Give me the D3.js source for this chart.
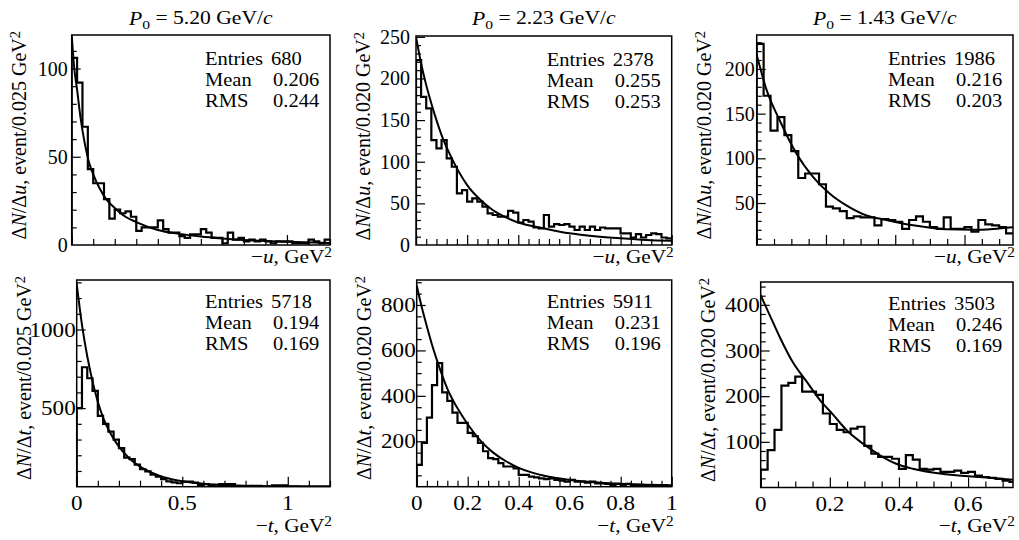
<!DOCTYPE html>
<html>
<head>
<meta charset="utf-8">
<script src="https://cdn.jsdelivr.net/npm/d3@7"></script>
<style>
  body { margin: 0; background: #fff; }
  svg text { font-family: "Liberation Serif", "Times New Roman", serif; fill: #000; }
</style>
</head>
<body>
<svg id="chart" width="1019" height="540"></svg>
<script>
// values
const momenta = ["5.20", "2.23", "1.43"];
const binWidths = ["0.025", "0.020", "0.020"];

// -u histograms (counts per bin)
const uCounts520 = [106, 92, 67, 43, 35, 35, 26, 15, 20, 18, 19, 16, 8, 10, 10, 10, 14, 9, 7, 7, 5, 4, 6, 6,
  9, 7, 4, 4, 1, 7, 3, 4, 2, 3, 2, 3, 2, 1, 2, 2, 2, 1, 1, 1, 3, 2, 1, 3];
const uCounts223 = [222, 178, 164, 126, 116, 126, 104, 94, 62, 66, 52, 56, 52, 46, 38, 36, 34, 34, 41, 39,
  27, 30, 28, 21, 20, 36, 22, 25, 24, 25, 22, 18, 22, 18, 22, 18, 21, 20, 20, 20, 14, 14, 9, 13, 9, 12, 14, 13, 9, 8];
const uCounts143 = [228, 170, 131, 146, 126, 108, 78, 83, 83, 71, 46, 44, 41, 33, 35, 34, 34, 25, 32, 31,
  29, 21, 31, 35, 29, 23, 21, 34, 21, 21, 23, 18, 31, 26, 25, 23, 16];

// -t histograms
const tCounts520 = [500, 760, 690, 610, 450, 400, 350, 300, 245, 185, 175, 140, 112, 97, 76, 64, 48, 34, 27, 22,
  32, 32, 26, 12, 17, 5, 12, 17, 17, 17, 5, 1, 1, 5, 5, 1, 1, 8, 8, 8, 3, 3, 1, 1, 1, 1, 1, 1];
const tCounts223 = [96, 193, 304, 447, 544, 415, 378, 326, 281, 281, 237, 222, 193, 156, 126, 121, 104, 89, 89, 81,
  52, 52, 44, 41, 37, 33, 37, 30, 27, 22, 30, 22, 22, 18, 22, 15, 15, 12, 7, 12, 7, 12, 7, 7, 7, 3, 7, 3, 7, 2];
const tCounts143 = [39, 82, 126, 223, 229, 243, 210, 210, 203, 162, 139, 126, 121, 129, 133, 91, 74, 67, 67, 63,
  41, 71, 61, 41, 39, 41, 34, 34, 37, 32, 34, 26, 23, 21, 19, 15, 12];

// fit curves, [x, value] pairs
const uFit520 = [[0, 119], [0.012, 100], [0.025, 88], [0.04, 73], [0.06, 58], [0.08, 47], [0.1, 40], [0.13, 32],
  [0.16, 26], [0.2, 21], [0.25, 16], [0.3, 13], [0.4, 8.5], [0.5, 6.3], [0.6, 4.8], [0.7, 3.7], [0.8, 2.8],
  [0.9, 2.2], [1.0, 1.8], [1.2, 1.2]];
const uFit223 = [[0, 250], [0.02, 218], [0.04, 192], [0.06, 170], [0.08, 150], [0.1, 132], [0.14, 104],
  [0.2, 72], [0.26, 52], [0.3, 42], [0.36, 32], [0.4, 27], [0.5, 20], [0.6, 14], [0.7, 10.5], [0.8, 8],
  [0.9, 6], [1.0, 5]];
const uFit143 = [[0, 216], [0.029, 176], [0.067, 142], [0.115, 105], [0.163, 79], [0.212, 60], [0.26, 47],
  [0.317, 36], [0.375, 31], [0.452, 25], [0.548, 20.5], [0.625, 20], [0.683, 21], [0.74, 23]];
const tFit520 = [[0, 1290], [0.025, 1030], [0.05, 830], [0.075, 670], [0.1, 540], [0.125, 440], [0.15, 365],
  [0.175, 305], [0.2, 255], [0.25, 180], [0.3, 128], [0.35, 92], [0.4, 66], [0.45, 48], [0.5, 35], [0.6, 19],
  [0.7, 10], [0.8, 6], [1.0, 2], [1.2, 1]];
const tFit223 = [[0, 886], [0.02, 790], [0.04, 705], [0.06, 625], [0.08, 555], [0.1, 490], [0.12, 432],
  [0.14, 385], [0.16, 345], [0.2, 275], [0.25, 203], [0.3, 150], [0.35, 112], [0.4, 83], [0.45, 63],
  [0.5, 48], [0.6, 30], [0.7, 20], [0.8, 13], [0.9, 9], [1.0, 6]];
const tFit143 = [[0, 421], [0.027, 376], [0.056, 328], [0.094, 273], [0.133, 232], [0.171, 192], [0.21, 159],
  [0.248, 126], [0.296, 96], [0.344, 71], [0.392, 52], [0.44, 41], [0.537, 29], [0.633, 23], [0.73, 17]];

// statistics boxes: entries, mean, rms
const uStats = [["680", "0.206", "0.244"], ["2378", "0.255", "0.253"], ["1986", "0.216", "0.203"]];
const tStats = [["5718", "0.194", "0.169"], ["5911", "0.231", "0.196"], ["3503", "0.246", "0.169"]];
const statNames = ["Entries", "Mean", "RMS"];

// axis ranges and tick steps
const xMaxU = [1.2, 1.0, 0.74];
const xMaxT = [1.2, 1.0, 0.73];
const yRangeU = [[0, 119], [0, 251], [3, 238]];
const yRangeT = [[0, 1315], [0, 910], [0, 450]];
const xMajor = [0.5, 0.2, 0.2];
const xMinor = [0.1, 0.04, 0.05];
const yMajorU = [50, 50, 50], yMinorU = [10, 10, 10];
const yMajorT = [500, 200, 100], yMinorT = [100, 50, 20];

// layout: frame boxes [left, top, right, bottom]
const framesTop = [[71.7, 35, 330, 245], [416, 36, 671.7, 245], [756.7, 35, 1013, 245]];
const framesBot = [[76.7, 280, 330, 486.7], [416.7, 280, 671.7, 486.7], [760.7, 282, 1013, 487.5]];
const labelPadTop = [4, 6, 2];
const statRowsTop = [30, 51, 72];
const statRowsBot = [28, 49, 70];

const svg = d3.select("#chart");

const panels = [];
[uCounts520, uCounts223, uCounts143].forEach((c, i) => panels.push({
  row: 0, col: i, frame: framesTop[i], counts: c, bin: +binWidths[i], fit: [uFit520, uFit223, uFit143][i],
  xMax: xMaxU[i], yDom: yRangeU[i], yMaj: yMajorU[i], yMin: yMinorU[i], stats: uStats[i], v: "u"
}));
[tCounts520, tCounts223, tCounts143].forEach((c, i) => panels.push({
  row: 1, col: i, frame: framesBot[i], counts: c, bin: +binWidths[i], fit: [tFit520, tFit223, tFit143][i],
  xMax: xMaxT[i], yDom: yRangeT[i], yMaj: yMajorT[i], yMin: yMinorT[i], stats: tStats[i], v: "t"
}));

function stepValues(lo, hi, step) {
  const out = [];
  for (let i = Math.ceil(lo / step - 1e-9); i * step <= hi + 1e-9; i++) out.push(+(i * step).toFixed(6));
  return out;
}
const isMultiple = (v, s) => Math.abs(v / s - Math.round(v / s)) < 1e-6;

// text with tspans; parts: {t, i (italic), sub, sup}
function richText(g, x, y, parts, opts) {
  const t = g.append("text")
    .attr("transform", `translate(${x},${y})${opts.rotate ? " rotate(-90)" : ""} scale(${opts.sx || 1},1)`)
    .attr("font-size", opts.size)
    .attr("text-anchor", opts.anchor || "start");
  let shift = 0;
  parts.forEach(p => {
    const target = p.sub ? 0.3 : p.sup ? -0.42 : 0;
    const s = t.append("tspan").text(p.t);
    if (target !== shift) { s.attr("dy", (target - shift) + "em"); }
    if (p.sub || p.sup) s.attr("font-size", opts.size * 0.72);
    if (p.i) s.attr("font-style", "italic");
    shift = target;
  });
  return t;
}

panels.forEach((p, k) => {
  const [L, T, R, B] = p.frame;
  const x = d3.scaleLinear().domain([0, p.xMax]).range([L, R]);
  const y = d3.scaleLinear().domain(p.yDom).range([B, T]);
  const g = svg.append("g");

  g.append("clipPath").attr("id", "clip" + k)
    .append("rect").attr("x", L).attr("y", T).attr("width", R - L).attr("height", B - T);

  // histogram
  const pts = [[0, p.yDom[0]]].concat(p.counts.map((c, i) => [i * p.bin, c]),
    [[p.counts.length * p.bin, p.counts[p.counts.length - 1]]]);
  const step = d3.line().x(d => x(d[0])).y(d => y(d[1])).curve(d3.curveStepAfter);
  g.append("path").attr("d", step(pts))
    .attr("fill", "none").attr("stroke", "#000").attr("stroke-width", 2.2)
    .attr("clip-path", `url(#clip${k})`);

  // fit curve
  const smooth = d3.line().x(d => x(d[0])).y(d => y(d[1])).curve(d3.curveMonotoneX);
  g.append("path").attr("d", smooth(p.fit))
    .attr("fill", "none").attr("stroke", "#000").attr("stroke-width", 2)
    .attr("clip-path", `url(#clip${k})`);

  // ticks (pointing inward)
  const xs = stepValues(0, p.xMax, xMinor[p.col]);
  const xMaj = xs.filter(v => isMultiple(v, xMajor[p.col]));
  const xMin = xs.filter(v => !isMultiple(v, xMajor[p.col]));
  const ys = stepValues(p.yDom[0], p.yDom[1], p.yMin).filter(v => v > p.yDom[0]);
  const yMaj = ys.filter(v => isMultiple(v, p.yMaj));
  const yMin = ys.filter(v => !isMultiple(v, p.yMaj));

  const addAxis = (axis, tr) => {
    const a = g.append("g").attr("transform", tr).call(axis);
    a.select(".domain").remove();
    a.selectAll("line").attr("stroke", "#000").attr("stroke-width", 1.2);
    a.selectAll("text").remove();
  };
  addAxis(d3.axisBottom(x).tickValues(xMin).tickSize(-6).tickSizeOuter(0), `translate(0,${B})`);
  addAxis(d3.axisBottom(x).tickValues(xMaj).tickSize(-10).tickSizeOuter(0), `translate(0,${B})`);
  addAxis(d3.axisLeft(y).tickValues(yMin).tickSize(-5).tickSizeOuter(0), `translate(${L},0)`);
  addAxis(d3.axisLeft(y).tickValues(yMaj).tickSize(-9).tickSizeOuter(0), `translate(${L},0)`);

  // frame
  g.append("rect").attr("x", L).attr("y", T).attr("width", R - L).attr("height", B - T)
    .attr("fill", "none").attr("stroke", "#000").attr("stroke-width", 1.5);

  const fmt = d3.format("~g");

  // tick labels
  const yLab = p.row === 0 ? yMaj.concat(p.yDom[0] === 0 ? [0] : []) : yMaj;
  const yPad = p.row === 0 ? labelPadTop[p.col] : 1;
  yLab.forEach(v => {
    richText(g, L - yPad, y(v) + 7, [{ t: fmt(v) }],
      { size: p.row === 0 ? 20 : 21, sx: p.row === 0 ? 1 : 1.1, anchor: "end" });
  });
  if (p.row === 1) {
    xMaj.forEach(v => {
      richText(g, x(v), B + 23, [{ t: fmt(v) }], { size: 21, sx: 1.1, anchor: "middle" });
    });
  }

  // axis titles
  richText(g, R + 2, p.row === 0 ? 263 : 532,
    [{ t: "\u2212" }, { t: p.v, i: true }, { t: ", GeV" }, { t: "2", sup: true }],
    { size: 19, sx: 1.12, anchor: "end" });
  richText(g, L - 46, T - 4,
    [{ t: "\u0394" }, { t: "N", i: true }, { t: "/\u0394" }, { t: p.v, i: true },
     { t: ", event/" + binWidths[p.col] + " GeV" }, { t: "2", sup: true }],
    { size: 20, anchor: "end", rotate: true });

  // panel title
  if (p.row === 0) {
    richText(g, (L + R) / 2, 25,
      [{ t: "P", i: true }, { t: "0", sub: true }, { t: " = " + momenta[p.col] + " GeV/" }, { t: "c", i: true }],
      { size: 18, sx: 1.2, anchor: "middle" });
  }

  // statistics
  const rows = p.row === 0 ? statRowsTop : statRowsBot;
  statNames.forEach((n, i) => {
    richText(g, R - 125, T + rows[i], [{ t: n }], { size: 19, sx: 1.08 });
    richText(g, R - 57 + (i === 0 ? -2 : 0), T + rows[i], [{ t: p.stats[i] }], { size: 19, sx: 1.08 });
  });
});
</script>
</body>
</html>
